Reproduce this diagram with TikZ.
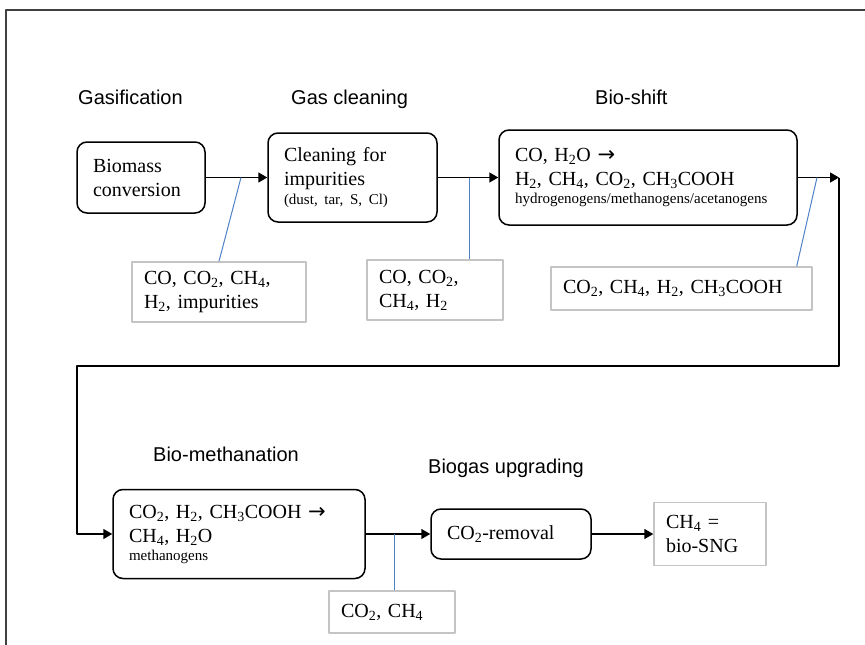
\documentclass[tikz,border=0pt]{standalone}
\usepackage{fontspec}
\setmainfont{Liberation Serif}
\setsansfont{Liberation Sans}
\newfontfamily\arrowfont{DejaVu Sans}
\usetikzlibrary{arrows.meta}
\frenchspacing
\definecolor{linkblue}{RGB}{79,129,201}
\definecolor{boxgray}{RGB}{196,196,196}
\definecolor{framegray}{RGB}{64,64,64}
\newcommand{\rarr}{{\arrowfont\fontsize{21}{24}\selectfont →}}
\newcommand{\sbs}[1]{\textsubscript{#1}}
\newcommand{\smalltxt}{\fontsize{15}{18}\selectfont}
\tikzset{
  stage/.style={font=\sffamily\fontsize{20}{24}\selectfont, inner sep=0pt, anchor=base west},
  proc/.style={draw, line width=1.5pt, rounded corners=10pt, align=left,
    font=\fontsize{20}{24}\selectfont, inner xsep=16pt, inner ysep=0pt},
  lab/.style={draw=boxgray, line width=1.4pt, align=left,
    font=\fontsize{20}{24}\selectfont, inner xsep=12pt, inner ysep=0pt},
  conn/.style={line width=1.5pt, -{Triangle[length=9pt,width=10pt]}},
  link/.style={draw=linkblue, line width=1pt},
  framestyle/.style={draw=framegray, line width=1.2pt}
}
\begin{document}
\begin{tikzpicture}[x=1pt, y=-1pt, line join=round]
\useasboundingbox (0,0) rectangle (865,645);
% frame
\coordinate (fa) at (6,645);
\coordinate (fb) at (6,10);
\coordinate (fc) at (865,10);
\draw[framestyle] (fa) -- (fb) -- (fc);

% stage titles
\node[stage] (sgas) at (78,104) {Gasification};
\node[stage] (sclean) at (291,104) {Gas cleaning};
\node[stage] (sshift) at (595,104) {Bio-shift};
\node[stage] (smeth) at (153,461) {Bio-methanation};
\node[stage] (supg) at (428,473) {Biogas upgrading};

% process boxes
\node[proc, text width=96pt, minimum height=71pt] (b1) at (141,177.5)
  {Biomass\\conversion};
\node[proc, text width=137pt, minimum height=89pt] (b2) at (352.5,177.5)
  {Cleaning for\\impurities\\[-5pt]{\smalltxt (dust, tar, S, Cl)}};
\node[proc, text width=266pt, minimum height=95pt] (b3) at (648,177.5)
  {CO, H\sbs{2}O \rarr\\H\sbs{2}, CH\sbs{4}, CO\sbs{2}, CH\sbs{3}COOH\\[-6pt]{\smalltxt hydrogenogens/methanogens/acetanogens}};
\node[proc, text width=220pt, minimum height=89pt] (b4) at (239,534)
  {CO\sbs{2}, H\sbs{2}, CH\sbs{3}COOH \rarr\\CH\sbs{4}, H\sbs{2}O\\[-6pt]{\smalltxt methanogens}};
\node[proc, text width=128pt, minimum height=50pt] (b5) at (511,534)
  {CO\sbs{2}-removal};

% gas composition boxes
\node[lab, text width=150pt, minimum height=60pt] (l1) at (219,292)
  {CO, CO\sbs{2}, CH\sbs{4},\\H\sbs{2}, impurities};
\node[lab, text width=112pt, minimum height=60pt] (l2) at (435,290)
  {CO, CO\sbs{2},\\CH\sbs{4}, H\sbs{2}};
\node[lab, text width=237pt, minimum height=43pt] (l3) at (681.5,288.5)
  {CO\sbs{2}, CH\sbs{4}, H\sbs{2}, CH\sbs{3}COOH};
\node[lab, text width=102pt, minimum height=42pt] (l4) at (392,612)
  {CO\sbs{2}, CH\sbs{4}};
\node[lab, text width=88pt, minimum height=63pt] (fin) at (710,534)
  {CH\sbs{4} =\\bio-SNG};

% main flow
\draw[conn] (b1.east) -- (b2.west);
\draw[conn] (b2.east) -- (b3.west);
\coordinate (rt) at (839,177.5);
\coordinate (rb) at (839,366);
\coordinate (lb) at (77,366);
\draw[conn] (b3.east) -- (rt);
\draw[conn] (rt) -- (rb) -- (lb) |- (b4.west);
\draw[conn] (b4.east) -- (b5.west);
\draw[conn] (b5.east) -- (fin.west);

% blue callout lines
\coordinate (t1) at (241,177.5);
\coordinate (t2) at (469,177.5);
\coordinate (t3) at (817,177.5);
\coordinate (t4) at (394,534);
\draw[link] (t1) -- (l1.north);
\draw[link] (t2) -- (t2 |- l2.north);
\draw[link] (t3) -- ([xshift=-16pt]l3.north east);
\draw[link] (t4) -- (t4 |- l4.north);
\end{tikzpicture}
\end{document}
